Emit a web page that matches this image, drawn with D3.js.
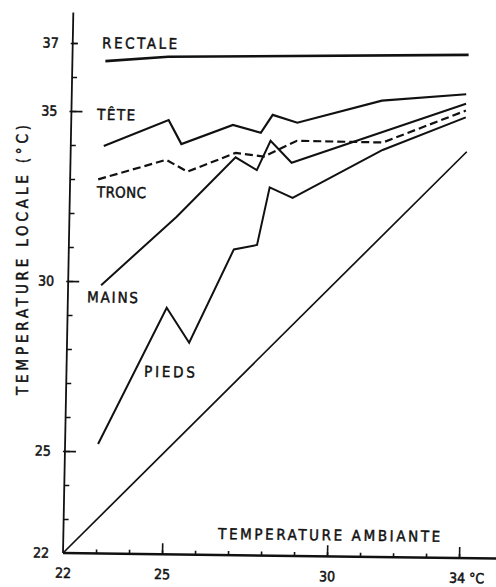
<!DOCTYPE html>
<html>
<head>
<meta charset="utf-8">
<script src="https://cdn.jsdelivr.net/npm/d3@7"></script>
<style>
  body { margin: 0; background: #fff; }
</style>
</head>
<body>
<div id="chart"></div>
<script>
// Data (ambient temperature -> local temperature, °C)
const rectaleAmb = [23, 24.9, 34]
const rectaleLoc = [36.48, 36.63, 36.8]

const teteAmb = [23, 24.95, 25.35, 26.9, 27.75, 28.1, 28.85, 31.4, 33.95]
const teteLoc = [33.98, 34.77, 34.07, 34.65, 34.43, 34.96, 34.74, 35.42, 35.64]

const troncAmb = [22.85, 24.9, 25.55, 27.0, 27.85, 28.85, 31.45, 33.95]
const troncLoc = [33.0, 33.6, 33.26, 33.83, 33.73, 34.21, 34.19, 35.16]

const mainsAmb = [23, 25.25, 27.0, 27.65, 28.05, 28.7, 33.95]
const mainsLoc = [29.89, 31.93, 33.7, 33.33, 34.2, 33.56, 35.36]

const piedsAmb = [23, 25.0, 25.7, 27.0, 27.7, 28.05, 28.75, 31.45, 33.95]
const piedsLoc = [25.22, 29.25, 28.23, 30.99, 31.13, 32.83, 32.53, 33.97, 34.96]

const egaliteAmb = [22, 34]
const egaliteLoc = [22, 33.95]

const xTickLabels = [22, 25, 30, 34]
const yTickLabels = [22, 25, 30, 35, 37]

// Constants
const width = 496
const height = 587
const origin = { x: 63, y: 553 }
// the scanned figure is slightly rotated: axes are not exactly square
const leanX = -0.0191
const leanY = 0.0127
const ink = '#111'
const font = "'DejaVu Sans Condensed', 'DejaVu Sans', sans-serif"

const svg = d3.select('#chart')
    .append('svg')
    .attr('width', width)
    .attr('height', height)
    .style('background', '#fff')

const g = svg.append('g')
    .attr('transform', `matrix(1, ${leanY}, ${leanX}, 1, ${origin.x}, ${origin.y})`)

// Scales
const x = d3.scaleLinear().domain([22, 34]).range([0, 396])
const y = d3.scaleLinear().domain([22, 37]).range([0, -510])

// Axis lines
const line = d3.line()
    .x(d => x(d[0]))
    .y(d => y(d[1]))

g.append('path')
    .attr('d', line([[22, 22], [35.15, 22]]))
    .attr('fill', 'none')
    .attr('stroke', ink)
    .attr('stroke-width', 2.4)

g.append('path')
    .attr('d', line([[22, 22], [22, 37.9]]))
    .attr('fill', 'none')
    .attr('stroke', ink)
    .attr('stroke-width', 1.8)

// X axis: minor and major ticks
const xMinorG = g.append('g')
    .call(d3.axisBottom(x).tickValues(d3.range(23, 35)).tickSizeInner(-4).tickSizeOuter(0).tickFormat(''))
xMinorG.select('.domain').remove()

const xMajorG = g.append('g')
    .call(d3.axisBottom(x).tickValues(xTickLabels).tickSizeInner(-11).tickSizeOuter(0).tickPadding(15)
        .tickFormat(d => d === 34 ? '34 °C' : d))
xMajorG.select('.domain').remove()
xMajorG.selectAll('.tick').filter(d => d === 22).select('line').remove()
xMajorG.selectAll('.tick').filter(d => d === 34).select('text')
    .attr('text-anchor', 'start')
    .attr('x', -10)

// Y axis: minor and major ticks
const yMinorG = g.append('g')
    .call(d3.axisLeft(y).tickValues(d3.range(23, 38)).tickSizeInner(-5).tickSizeOuter(0).tickFormat(''))
yMinorG.select('.domain').remove()

const yMajorG = g.append('g')
    .call(d3.axisLeft(y).tickValues(yTickLabels).tickSizeInner(-11).tickSizeOuter(0).tickPadding(14))
yMajorG.select('.domain').remove()
yMajorG.selectAll('.tick').filter(d => d === 22).select('line').remove()
yMajorG.selectAll('.tick').filter(d => d === 37).select('line').attr('x1', -2).attr('x2', 5)
yMajorG.selectAll('.tick').filter(d => d === 25 || d === 30 || d === 35).select('line').attr('x1', -2)

g.selectAll('.tick line')
    .attr('stroke', ink)
    .attr('stroke-width', 1.6)
g.selectAll('.tick text')
    .attr('fill', ink)
    .attr('stroke', ink)
    .attr('stroke-width', 0.5)
    .style('font-size', '14px')
    .style('font-family', font)

// Series
const series = [
    { amb: egaliteAmb, loc: egaliteLoc, width: 1.7, dash: null },
    { amb: rectaleAmb, loc: rectaleLoc, width: 2.6, dash: null },
    { amb: teteAmb, loc: teteLoc, width: 2.2, dash: null },
    { amb: troncAmb, loc: troncLoc, width: 2.2, dash: '8,4' },
    { amb: mainsAmb, loc: mainsLoc, width: 2.0, dash: null },
    { amb: piedsAmb, loc: piedsLoc, width: 2.0, dash: null }
]

g.selectAll('.serie')
    .data(series)
    .enter()
    .append('path')
    .attr('class', 'serie')
    .attr('d', s => line(s.amb.map((a, i) => [a, s.loc[i]])))
    .attr('fill', 'none')
    .attr('stroke', ink)
    .attr('stroke-width', s => s.width)
    .attr('stroke-linejoin', 'miter')
    .attr('stroke-dasharray', s => s.dash)

// Labels placed in data coordinates
const labels = [
    { text: 'RECTALE', amb: 22.89, loc: 36.86, len: 75 },
    { text: 'TÊTE', amb: 22.78, loc: 34.75, len: 38 },
    { text: 'TRONC', amb: 22.82, loc: 32.47, len: 49 },
    { text: 'MAINS', amb: 22.58, loc: 29.38, len: 51 },
    { text: 'PIEDS', amb: 24.35, loc: 27.21, len: 51 },
    { text: 'TEMPERATURE AMBIANTE', amb: 26.69, loc: 22.47, len: 222 }
]

g.selectAll('.label')
    .data(labels)
    .enter()
    .append('text')
    .attr('class', 'label')
    .attr('x', d => x(d.amb))
    .attr('y', d => y(d.loc))
    .attr('textLength', d => d.len)
    .attr('lengthAdjust', 'spacing')
    .style('font-size', '15px')
    .style('font-family', font)
    .style('fill', ink)
    .style('stroke', ink)
    .style('stroke-width', 0.45)
    .text(d => d.text)

// Y axis title
svg.append('text')
    .attr('transform', 'translate(28, 260) rotate(-90)')
    .attr('text-anchor', 'middle')
    .attr('textLength', 270)
    .attr('lengthAdjust', 'spacing')
    .style('font-size', '15px')
    .style('font-family', font)
    .style('fill', ink)
    .style('stroke', ink)
    .style('stroke-width', 0.45)
    .text('TEMPERATURE LOCALE (°C)')
</script>
</body>
</html>
